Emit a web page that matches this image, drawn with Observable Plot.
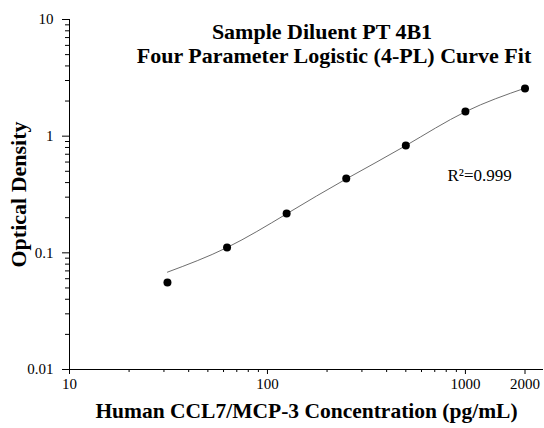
<!DOCTYPE html>
<html>
<head>
<meta charset="utf-8">
<script src="https://cdn.jsdelivr.net/npm/d3@7"></script>
<script src="https://cdn.jsdelivr.net/npm/@observablehq/plot@0.6"></script>
<style>
  html, body { margin: 0; padding: 0; background: #fff; }
  svg { font-family: "Liberation Serif", "Times New Roman", serif; color: #000; }
</style>
</head>
<body>
<div id="chart"></div>
<script>
// Data
const concentrations = [31.25, 62.5, 125, 250, 500, 1000, 2000];
const opticalDensity = [0.0556, 0.111, 0.217, 0.433, 0.831, 1.625, 2.56];
// fitted curve
const curveX = [31.25, 62.5, 125, 250, 500, 1000, 2000];
const curveY = [0.0683, 0.111, 0.216, 0.43, 0.83, 1.62, 2.58];

const xMajor = [10, 100, 1000, 2000];
const xMinor = [20, 30, 40, 50, 60, 70, 80, 90, 200, 300, 400, 500, 600, 700, 800, 900];
const yMajor = [0.01, 0.1, 1, 10];
const yMinor = [0.02, 0.03, 0.04, 0.05, 0.06, 0.07, 0.08, 0.09,
                0.2, 0.3, 0.4, 0.5, 0.6, 0.7, 0.8, 0.9,
                2, 3, 4, 5, 6, 7, 8, 9];

const titleLines = ["Sample Diluent PT 4B1", "Four Parameter Logistic (4-PL) Curve Fit"];
const xLabel = "Human CCL7/MCP-3 Concentration (pg/mL)";
const yLabel = "Optical Density";
const r2Label = "R²=0.999";

const points = concentrations.map((c, i) => ({x: c, y: opticalDensity[i]}));
const curve = curveX.map((c, i) => ({x: c, y: curveY[i]}));

const W = 544, H = 428, ML = 69, MR = 1, MT = 19, MB = 59;

const chart = Plot.plot({
  width: W,
  height: H,
  marginLeft: ML,
  marginRight: MR,
  marginTop: MT,
  marginBottom: MB,
  style: {fontFamily: "Liberation Serif, Times New Roman, serif", fontSize: "15px", color: "#000", background: "#fff"},
  x: {type: "log", domain: [10, 2480]},
  y: {type: "log", domain: [0.01, 10]},
  marks: [
    Plot.axisX(xMajor, {tickSize: 5, tickPadding: 4, tickFormat: d => String(d), fontSize: 15, label: null, stroke: "#000", strokeWidth: 1, fill: "#000"}),
    Plot.axisY(yMajor, {tickSize: 7, tickPadding: 9, tickFormat: d => String(d), fontSize: 15, label: null, stroke: "#000", strokeWidth: 1, fill: "#000"}),
    Plot.ruleX(xMinor, {x: d => d, y1: 0.01, y2: 0.01, insetBottom: -3, stroke: "#000", strokeWidth: 1}),
    Plot.ruleY(yMinor, {y: d => d, x1: 10, x2: 10, insetLeft: -4, stroke: "#000", strokeWidth: 1}),
    Plot.ruleX([10], {stroke: "#000"}),
    Plot.ruleY([0.01], {stroke: "#000"}),
    Plot.line(curve, {x: "x", y: "y", curve: "natural", stroke: "#6e6e6e", strokeWidth: 1}),
    Plot.dot(points, {x: "x", y: "y", r: 4, fill: "#000", stroke: null}),
    Plot.text([titleLines[0]], {frameAnchor: "top", dx: 15.5, dy: 12, lineAnchor: "middle", fontSize: 22, fontWeight: "bold", fill: "#000"}),
    Plot.text([titleLines[1]], {frameAnchor: "top", dx: 27.5, dy: 36.5, lineAnchor: "middle", fontSize: 22, fontWeight: "bold", fill: "#000"}),
    Plot.text([r2Label], {frameAnchor: "top-left", textAnchor: "start", lineAnchor: "middle", dx: 378, dy: 156, fontSize: 17, fill: "#000"}),
    Plot.text([yLabel], {frameAnchor: "left", rotate: -90, dx: -51, lineAnchor: "middle", textAnchor: "middle", fontSize: 22, fontWeight: "bold", fill: "#000"}),
    Plot.text([xLabel], {frameAnchor: "bottom", dy: 42, lineAnchor: "middle", fontSize: 21.5, fontWeight: "bold", fill: "#000"})
  ]
});
document.getElementById("chart").appendChild(chart);
</script>
</body>
</html>
